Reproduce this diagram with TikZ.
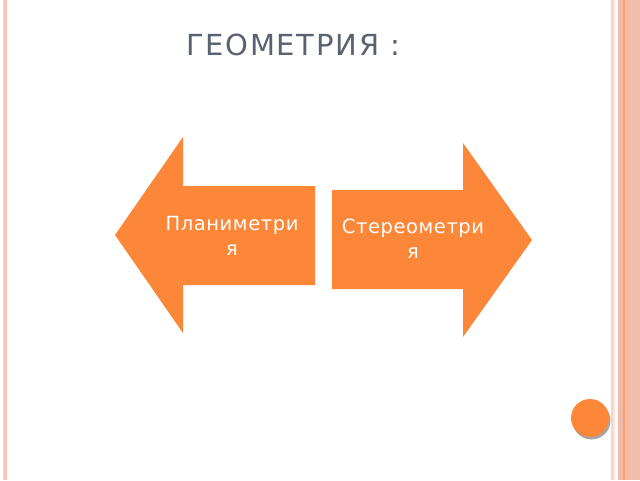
\documentclass[tikz,border=0pt]{standalone}
\usepackage{fontspec}
\setmainfont{DejaVu Sans}
\newfontfamily\titlefont[LetterSpace=6]{DejaVu Sans}
\newfontfamily\arrowfont[LetterSpace=3]{DejaVu Sans}
\usepackage{tikz}
\definecolor{arroworange}{RGB}{252,135,56}
\definecolor{titlegray}{RGB}{90,98,112}
\definecolor{bandsalmon}{RGB}{242,187,167}
\definecolor{bandlight}{RGB}{250,211,198}
\definecolor{bandpale}{RGB}{252,228,219}
\definecolor{bandorange}{RGB}{245,160,122}

\begin{document}
\begin{tikzpicture}[x=1pt,y=-1pt]
\tikzstyle{every node}+=[inner sep=0pt]
\tikzstyle{arrowtext}=[text=white,align=center,font=\arrowfont\fontsize{19.5}{25}\selectfont]
\useasboundingbox (0,0) rectangle (640,480);
\fill [white] (0,0) rectangle (640,480);
% page bands
\fill [bandlight] (3.3,0) rectangle (4.4,480);
\fill [bandsalmon!85!white] (4.4,0) rectangle (7.4,480);
\fill [bandlight] (611,0) rectangle (613,480);
\fill [bandpale] (613,0) rectangle (615,480);
\fill [bandsalmon] (618,0) rectangle (623,480);
\fill [bandorange] (623,0) rectangle (625,480);
\fill [bandsalmon] (625,0) rectangle (629,480);
\fill [bandsalmon!95!white] (629,0) rectangle (640,480);
% title
\node (title) at (293,45) {\titlefont\fontsize{29}{34}\selectfont\color{titlegray}ГЕОМЕТРИЯ :};
% left arrow
\fill [arroworange] (115,235) -- (183,137) -- (183,186) -- (315,186) -- (315,285) -- (183,285) -- (183,333) -- cycle;
\node [arrowtext] (plan) at (232,236) {Планиметри\\я};
% right arrow
\fill [arroworange] (332,190) -- (463,190) -- (463,143) -- (532,240) -- (463,337) -- (463,289) -- (332,289) -- cycle;
\node [arrowtext] (stereo) at (413,239) {Стереометри\\я};
% corner button
\fill [gray!70] (591.5,420.5) circle (19);
\fill [arroworange] (590,418) circle (19);
\end{tikzpicture}
\end{document}
